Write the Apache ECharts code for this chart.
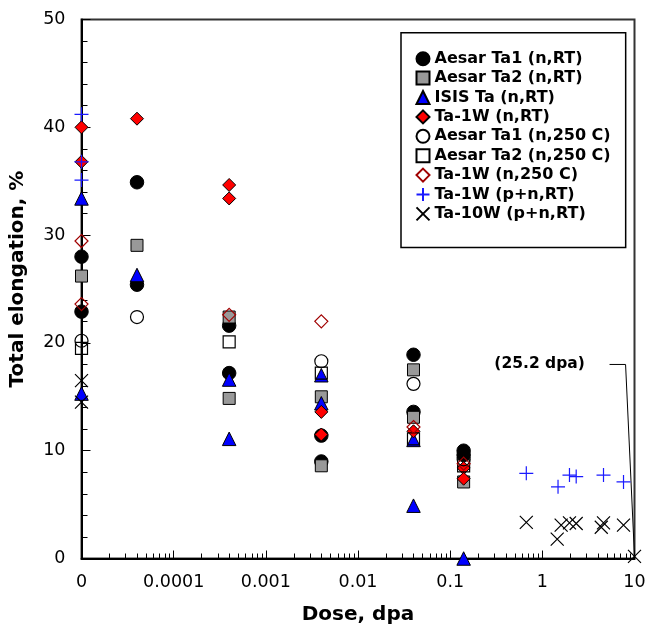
<!DOCTYPE html>
<html><head><meta charset="utf-8">
<script src="https://cdn.jsdelivr.net/npm/echarts@6/dist/echarts.min.js"></script>
<style>html,body{margin:0;padding:0;background:#fff}#c{width:646px;height:627px}</style>
</head><body><div id="c"></div>
<script>
// Unirradiated samples are drawn at the axis position labelled "0"
const ZERO = 1e-5;
const X_TICK_LABELS = ['0', '0.0001', '0.001', '0.01', '0.1', '1', '10'];
const X_DECADES = [-5, -4, -3, -2, -1, 0];
const MINOR_MULTIPLIERS = [2, 3, 4, 5, 6, 7, 8, 9];
const Y_MIN = 0, Y_MAX = 50, Y_STEP = 10;

// Aesar Ta1 (n,RT)
const ta1RT_dose  = [ZERO, ZERO, 4e-5, 4e-5, 4e-4, 4e-4, 4e-3, 4e-3, 0.04, 0.04, 0.14, 0.14];
const ta1RT_elong = [28.0, 22.9, 34.9, 25.4, 21.6, 17.2, 11.4, 9.0, 18.9, 13.6, 10.0, 9.6];
// Aesar Ta2 (n,RT)
const ta2RT_dose  = [ZERO, 4e-5, 4e-4, 4e-4, 4e-3, 4e-3, 0.04, 0.04, 0.14];
const ta2RT_elong = [26.2, 29.05, 22.4, 14.85, 15.0, 8.6, 17.5, 13.1, 7.1];
// ISIS Ta (n,RT)
const isisRT_dose  = [ZERO, ZERO, 4e-5, 4e-4, 4e-4, 4e-3, 4e-3, 0.04, 0.04, 0.14];
const isisRT_elong = [33.4, 15.3, 26.3, 16.6, 11.1, 17.0, 14.4, 11.0, 4.9, 0];
// Ta-1W (n,RT)
const ta1wRT_dose  = [ZERO, ZERO, 4e-5, 4e-4, 4e-4, 4e-3, 4e-3, 0.04, 0.14, 0.14];
const ta1wRT_elong = [40.0, 36.8, 40.8, 34.65, 33.4, 13.6, 11.5, 11.8, 8.4, 7.4];
// Aesar Ta1 (n,250 C)
const ta1HT_dose  = [ZERO, 4e-5, 4e-3, 0.04, 0.14];
const ta1HT_elong = [20.2, 22.4, 18.3, 16.2, 9.2];
// Aesar Ta2 (n,250 C)
const ta2HT_dose  = [ZERO, 4e-4, 4e-3, 0.04, 0.14];
const ta2HT_elong = [19.5, 20.1, 17.2, 11.1, 8.6];
// Ta-1W (n,250 C)
const ta1wHT_dose  = [ZERO, ZERO, 4e-4, 4e-3, 0.04, 0.14];
const ta1wHT_elong = [29.45, 23.6, 22.6, 22.0, 12.2, 8.8];
// Ta-1W (p+n,RT)
const ta1wPN_dose  = [ZERO, ZERO, ZERO, 0.67, 1.48, 1.97, 2.33, 4.61, 7.6];
const ta1wPN_elong = [41.2, 36.8, 35.1, 7.9, 6.65, 7.74, 7.6, 7.74, 7.1];
// Ta-10W (p+n,RT)  (last point: 25.2 dpa, drawn at the axis end)
const ta10wPN_dose  = [ZERO, ZERO, 0.67, 1.45, 1.6, 1.97, 2.33, 4.36, 4.61, 7.6, 10];
const ta10wPN_elong = [16.5, 14.5, 3.35, 1.8, 3.1, 3.3, 3.25, 2.9, 3.3, 3.1, 0.2];

// Annotation for the 25.2 dpa point
const ANNOT_TEXT = '(25.2 dpa)';
const ANNOT_POS = [0.934, 18.0];
const LEADER_DOSE = [5.36, 8.0, 10];
const LEADER_ELONG = [18.0, 18.0, 0.2];

const FONT = 'DejaVu Sans';
const zip = (a, b) => a.map((v, i) => [v, b[i]]);
const PLUS = 'path://M0,5L10,5M5,0L5,10';
const CROSS = 'path://M0,0L10,10M10,0L0,10';
const CLEAR = 'rgba(0,0,0,0)';

const minorTickValues = [];
X_DECADES.forEach(d => MINOR_MULTIPLIERS.forEach(m => minorTickValues.push([m * Math.pow(10, d), Y_MIN])));

const defs = [
  {name: 'Aesar Ta1 (n,RT)', d: ta1RT_dose, e: ta1RT_elong, symbol: 'circle', size: 13.5, fill: '#000', border: '#000', bw: 1},
  {name: 'Aesar Ta2 (n,RT)', d: ta2RT_dose, e: ta2RT_elong, symbol: 'rect', size: 12, fill: '#999999', border: '#000', bw: 1},
  {name: 'ISIS Ta (n,RT)', d: isisRT_dose, e: isisRT_elong, symbol: 'triangle', size: 13.5, fill: '#0000ff', border: '#000', bw: 1},
  {name: 'Ta-1W (n,RT)', d: ta1wRT_dose, e: ta1wRT_elong, symbol: 'diamond', size: 13, fill: '#ff0000', border: '#000', bw: 1},
  {name: 'Aesar Ta1 (n,250 C)', d: ta1HT_dose, e: ta1HT_elong, symbol: 'circle', size: 13, fill: CLEAR, border: '#000', bw: 1.2},
  {name: 'Aesar Ta2 (n,250 C)', d: ta2HT_dose, e: ta2HT_elong, symbol: 'rect', size: 12, fill: CLEAR, border: '#000', bw: 1.2},
  {name: 'Ta-1W (n,250 C)', d: ta1wHT_dose, e: ta1wHT_elong, symbol: 'diamond', size: 13, fill: CLEAR, border: '#a00000', bw: 1.2},
  {name: 'Ta-1W (p+n,RT)', d: ta1wPN_dose, e: ta1wPN_elong, symbol: PLUS, size: 14, fill: CLEAR, border: '#1a1aff', bw: 1.2},
  {name: 'Ta-10W (p+n,RT)', d: ta10wPN_dose, e: ta10wPN_elong, symbol: CROSS, size: 13, fill: CLEAR, border: '#000', bw: 1.2}
];

const series = defs.map(s => ({
  name: s.name, type: 'scatter', clip: false,
  data: zip(s.d, s.e), symbol: s.symbol, symbolSize: s.size,
  itemStyle: {color: s.fill, borderColor: s.border, borderWidth: s.bw, opacity: 1},
  emphasis: {disabled: true}
}));
series.push({
  type: 'line', data: zip(LEADER_DOSE, LEADER_ELONG), symbol: 'none', silent: true,
  lineStyle: {color: '#000', width: 1, opacity: 1}, z: 1
});
series.push({
  type: 'scatter', data: [ANNOT_POS], symbolSize: 0, silent: true,
  itemStyle: {opacity: 1},
  label: {show: true, position: 'inside', formatter: ANNOT_TEXT, fontFamily: FONT, fontWeight: 'bold',
          fontSize: 15.5, color: '#000', opacity: 1, textBorderWidth: 0}
});
// log-decade minor ticks (2..9 of every decade) on the dose axis
series.push({
  type: 'custom', silent: true, clip: false, z: 1,
  data: minorTickValues, encode: {x: 0, y: 1},
  renderItem: (params, api) => {
    const p = api.coord([api.value(0), api.value(1)]);
    const x = Math.round(p[0]) + 0.5;
    return {type: 'line', shape: {x1: x, y1: p[1], x2: x, y2: p[1] - 5}, style: {stroke: '#000', lineWidth: 1}};
  }
});

const chart = echarts.init(document.getElementById('c'), null, {renderer: 'canvas'});
chart.setOption({
  animation: false,
  backgroundColor: '#fff',
  grid: {left: 81.5, right: 11.5, top: 19.5, bottom: 68.5, show: true, borderColor: '#333', borderWidth: 2,
         backgroundColor: 'transparent', containLabel: false, outerBoundsMode: 'none'},
  legend: {
    orient: 'vertical', left: 401, top: 32.7, itemWidth: 13, itemHeight: 13, itemGap: 3.4,
    padding: [18, 15, 25.7, 14.5], borderColor: '#000', borderWidth: 1.5, backgroundColor: '#fff',
    textStyle: {fontFamily: FONT, fontWeight: 'bold', fontSize: 16, color: '#000'},
    data: defs.map(s => s.name), selectedMode: false
  },
  xAxis: {
    type: 'log', logBase: 10, min: 1e-5, max: 10,
    name: 'Dose, dpa', nameLocation: 'middle', nameGap: 46,
    nameTextStyle: {fontFamily: FONT, fontWeight: 'bold', fontSize: 20, color: '#000'},
    axisLine: {lineStyle: {color: '#000', width: 2}},
    axisTick: {inside: true, length: 8, lineStyle: {color: '#000', width: 1}},
    minorTick: {show: false},
    splitLine: {show: false}, minorSplitLine: {show: false},
    axisLabel: {
      margin: 15, fontFamily: FONT, fontSize: 17.5, color: '#000',
      formatter: v => X_TICK_LABELS[Math.round(Math.log10(v)) + 5]
    }
  },
  yAxis: {
    type: 'value', min: Y_MIN, max: Y_MAX, interval: Y_STEP,
    name: 'Total elongation, %', nameLocation: 'middle', nameGap: 54,
    nameTextStyle: {fontFamily: FONT, fontWeight: 'bold', fontSize: 20, color: '#000', padding: [0, 0, 0, 20]},
    axisLine: {show: true, lineStyle: {color: '#000', width: 2}},
    axisTick: {show: true, inside: true, length: 9, lineStyle: {color: '#000', width: 1}},
    minorTick: {show: true, splitNumber: 5, length: 6, lineStyle: {color: '#000', width: 1}},
    splitLine: {show: false},
    axisLabel: {margin: 16, fontFamily: FONT, fontSize: 17.5, color: '#000'}
  },
  series: series
});
</script></body></html>
